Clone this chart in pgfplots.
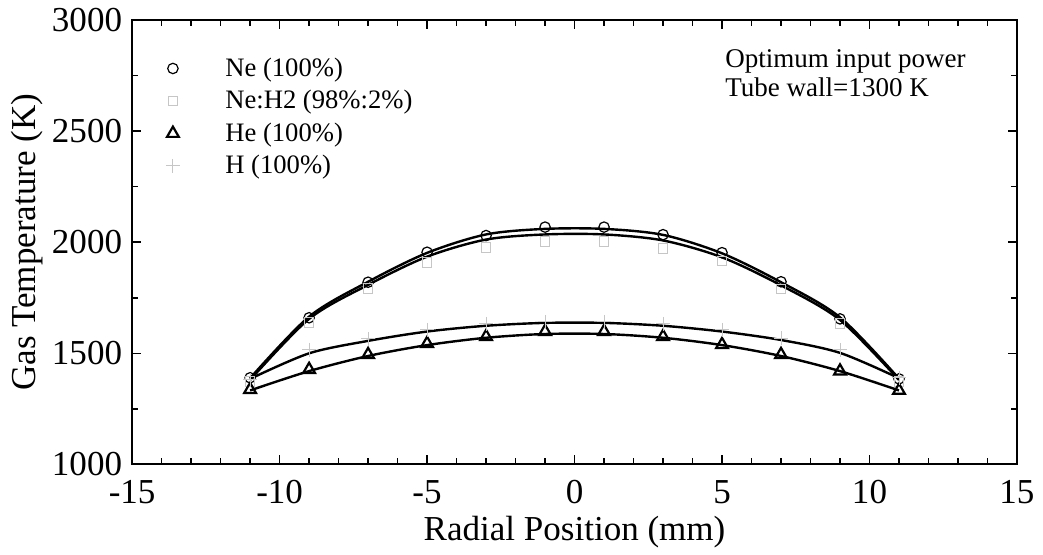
\documentclass[border=0pt]{standalone}
\usepackage{fontspec}
\setmainfont{Liberation Serif}
\usepackage{pgfplots}
\pgfplotsset{compat=1.18}

% fitted curves
\newcommand{\fitNe}{(-11,1388) (-9,1665) (-7,1822) (-5,1952) (-3,2035) (-1,2060) (1,2060) (3,2033) (5,1950) (7,1820) (9,1662) (11,1386)}
\newcommand{\fitNeH}{(-11,1380) (-9,1655) (-7,1808) (-5,1935) (-3,2012) (-1,2035) (1,2035) (3,2008) (5,1932) (7,1806) (9,1650) (11,1380)}
\newcommand{\fitHe}{(-11,1333) (-9,1420) (-7,1488) (-5,1537) (-3,1570) (-1,1587) (1,1587) (3,1570) (5,1537) (7,1488) (9,1420) (11,1333)}
\newcommand{\fitH}{(-11,1385) (-9,1500) (-7,1556) (-5,1598) (-3,1624) (-1,1637) (1,1637) (3,1624) (5,1598) (7,1560) (9,1502) (11,1388)}

\begin{document}
\begin{tikzpicture}
\begin{axis}[
    name=ax,
    scale only axis,
    width=442pt, height=222pt,
    xmin=-15, xmax=15, ymin=1000, ymax=3000,
    xtick={-15,-10,...,15},
    ytick={1000,1500,...,3000},
    minor x tick num=4,
    minor y tick num=1,
    tick align=inside,
    major tick length=4.5pt,
    minor tick length=3pt,
    axis line style={line width=1pt},
    every tick/.style={black, line width=0.8pt},
    /pgf/number format/assume math mode=true,
    /pgf/number format/1000 sep={},
    tick label style={font=\fontsize{17.5}{20}\selectfont},
    xticklabel style={yshift=-4.5pt},
    yticklabel style={xshift=-1.5pt},
    xlabel={Radial Position (mm)},
    ylabel={Gas Temperature (K)},
    every axis x label/.style={at={(axis description cs:0.5,-0.153)}, anchor=center,
        font=\fontsize{17.5}{20}\selectfont},
    every axis y label/.style={at={(axis description cs:-0.1188,0.5)}, rotate=90, anchor=center,
        font=\fontsize{17.5}{20}\selectfont},
    legend style={draw=none, fill=none, at={(rel axis cs:0.036,0.925)}, anchor=north west,
        font=\fontsize{13.3}{15}\selectfont, row sep=1.5pt, inner sep=0pt},
    legend cell align=left,
    legend image code/.code={%
        \draw[#1] plot[only marks] coordinates {(0.15cm,0cm)};
        \path[draw=none] (0cm,0cm) -- (1.0cm,0cm);},
]
\addplot[black, line width=1.2pt, smooth, forget plot] coordinates {\fitNe};
\addplot[black, line width=1.2pt, smooth, forget plot] coordinates {\fitNeH};
\addplot[black, line width=1.2pt, smooth, forget plot] coordinates {\fitHe};
\addplot[black, line width=1.2pt, smooth, forget plot] coordinates {\fitH};

\addplot[only marks, mark=o, mark size=2.6pt, black, line width=0.6pt] coordinates {
(-11,1390) (-9,1660) (-7,1820) (-5,1955) (-3,2030) (-1,2068) (1,2068) (3,2034) (5,1953) (7,1822) (9,1655) (11,1385)};
\addlegendentry{Ne (100\%)}
\addplot[only marks, mark=square, mark size=2.4pt, gray!45, line width=0.5pt] coordinates {
(-11,1372) (-9,1640) (-7,1792) (-5,1910) (-3,1975) (-1,2002) (1,2002) (3,1972) (5,1915) (7,1790) (9,1635) (11,1372)};
\addlegendentry{Ne:H2 (98\%:2\%)}
\addplot[only marks, mark=triangle, mark size=3.4pt, black, line width=1.1pt] coordinates {
(-11,1337) (-9,1427) (-7,1494) (-5,1544) (-3,1575) (-1,1598) (1,1598) (3,1575) (5,1539) (7,1494) (9,1420) (11,1333)};
\addlegendentry{He (100\%)}
\addplot[only marks, mark=+, mark size=3.5pt, gray!45, line width=0.5pt] coordinates {
(-11,1380) (-9,1517) (-7,1565) (-5,1605) (-3,1632) (-1,1643) (1,1643) (3,1632) (5,1605) (7,1568) (9,1515) (11,1390)};
\addlegendentry{H (100\%)}

\node[anchor=north west, align=left, inner sep=0pt,
      font=\fontsize{13.5}{14.5}\selectfont] at (axis cs:5.1,2870)
      {Optimum input power\\Tube wall=1300 K};
\end{axis}
\path (ax.south west) ++(-66pt,-42.5pt) (ax.north east) ++(13pt,10pt);
\end{tikzpicture}
\end{document}
